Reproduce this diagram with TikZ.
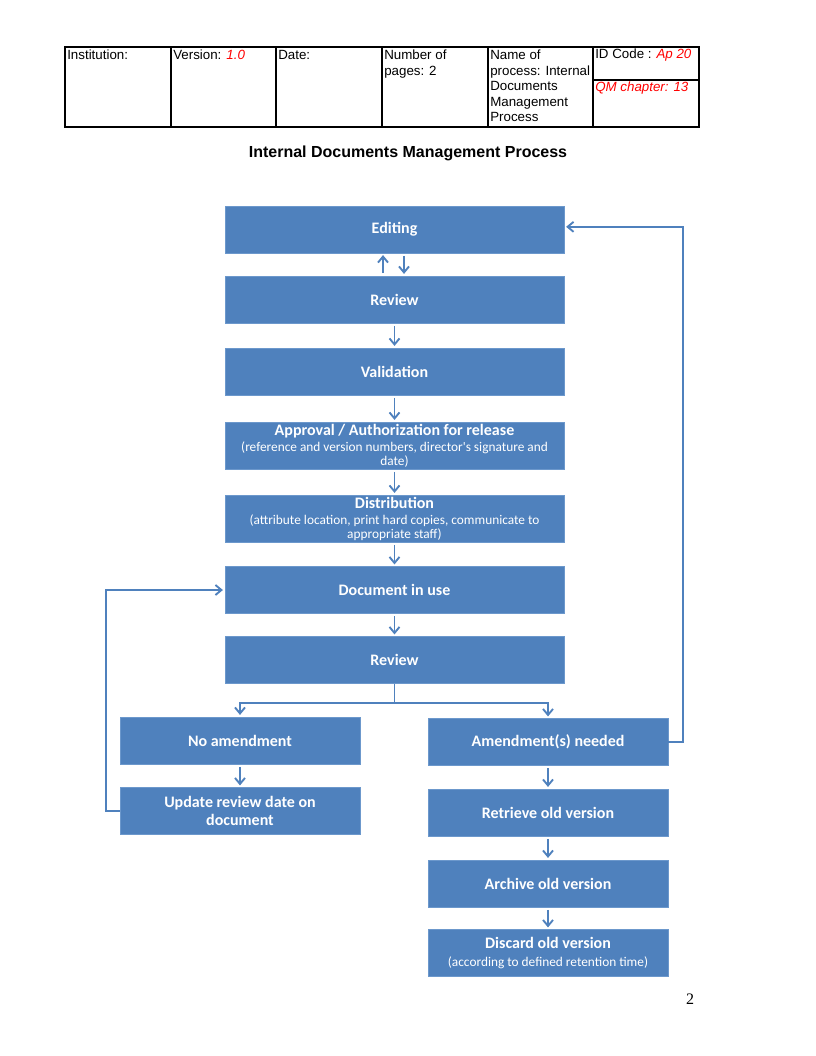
\documentclass[tikz,border=0pt]{standalone}
\usepackage{fontspec}
\setmainfont{Liberation Sans}
\newfontfamily\calibri{Carlito}
\newfontfamily\timesfont{Liberation Serif}
\usetikzlibrary{arrows.meta}
\definecolor{boxblue}{HTML}{4F81BD}
\definecolor{edgeblue}{HTML}{6C98CC}
\newcommand{\subtext}[1]{{\fontsize{10}{11}\selectfont\mdseries #1}}
\newcommand{\redit}[1]{\textcolor{red}{\itshape #1}}
\tikzset{
  stepbox/.style={fill=boxblue, draw=edgeblue, line width=0.4pt, text=white,
    font=\calibri\fontsize{12}{12}\selectfont\bfseries, align=center,
    minimum height=35pt, inner sep=1pt},
  mainbox/.style={stepbox, minimum width=254pt},
  sidebox/.style={stepbox, minimum width=180pt},
  flow/.style={draw=boxblue, line width=1.4pt, shorten >=1.5pt,
    -{Straight Barb[length=4.5pt,width=7.5pt]}},
  gapflow/.style={flow, shorten <=2pt},
  link/.style={draw=boxblue, line width=1.4pt},
  cell/.style={anchor=north west, inner sep=0pt, align=left,
    font=\fontsize{10}{11.6}\selectfont},
}
\begin{document}
\begin{tikzpicture}[x=0.75pt, y=-0.75pt]
  \path[fill=white, use as bounding box] (0,0) rectangle (816,1056);

  % header table
  \draw[line width=1.8pt] (65,47) rectangle (699,127);
  \foreach \x in {171,276,382,488,593} {
    \draw[line width=1.8pt] (\x,47) -- (\x,127);
  }
  \draw[line width=1.8pt] (593,80) -- (699,80);
  \node[cell] (inst) at (67,50) {Institution:};
  \node[cell] (vers) at (173,50) {Version: \redit{1.0}};
  \node[cell] (date) at (278,50) {Date:};
  \node[cell] (pages) at (384,50) {Number of\\pages: 2};
  \node[cell] (procname) at (490,50) {Name of\\process: Internal\\Documents\\Management\\Process};
  \node[cell] (idcode) at (595,49) {ID Code : \redit{Ap 20}};
  \node[cell] (qmchap) at (595,82) {\redit{QM chapter: 13}};

  % title
  \node[font=\bfseries\fontsize{12}{14}\selectfont] (title) at (408,153)
    {Internal Documents Management Process};

  % blocks
  \node[mainbox] (edit) at (394.5,229.5) {Editing};
  \node[mainbox] (rev) at (394.5,299.5) {Review};
  \node[mainbox] (valid) at (394.5,371.5) {Validation};
  \node[mainbox] (approv) at (394.5,445.5) {Approval / Authorization for release\\
    \subtext{(reference and version numbers, director's signature and}\\[-1.5pt] \subtext{date)}};
  \node[mainbox] (distrib) at (394.5,518.5) {Distribution\\
    \subtext{(attribute location, print hard copies, communicate to}\\[-1.5pt] \subtext{appropriate staff)}};
  \node[mainbox] (docuse) at (394.5,590) {Document in use};
  \node[mainbox] (revuse) at (394.5,660) {Review};
  \node[sidebox] (noamend) at (240,740.5) {No amendment};
  \node[sidebox] (update) at (240,811) {Update review date on\\[1pt]document};
  \node[sidebox] (amend) at (548,742) {Amendment(s) needed};
  \node[sidebox] (retrieve) at (548,812.5) {Retrieve old version};
  \node[sidebox] (archive) at (548,883.5) {Archive old version};
  \node[sidebox] (discard) at (548,953) {Discard old version\\[1pt]
    \subtext{(according to defined retention time)}};

  % arrows between blocks
  \coordinate (upx) at (383,0);
  \coordinate (downx) at (404,0);
  \draw[gapflow] (rev.north -| upx) -- (edit.south -| upx);
  \draw[gapflow] (edit.south -| downx) -- (rev.north -| downx);
  \draw[gapflow] (rev) -- (valid);
  \draw[gapflow] (valid) -- (approv);
  \draw[gapflow] (approv) -- (distrib);
  \draw[gapflow] (distrib) -- (docuse);
  \draw[gapflow] (docuse) -- (revuse);
  \draw[gapflow] (noamend) -- (update);
  \draw[gapflow] (amend) -- (retrieve);
  \draw[gapflow] (retrieve) -- (archive);
  \draw[gapflow] (archive) -- (discard);

  % fork after review
  \draw[link] (revuse.south) -- ++(0,19) coordinate (fork);
  \draw[flow] (fork) -| (noamend.north);
  \draw[flow] (fork) -| (amend.north);

  % loops back
  \draw[flow] (amend.east) -- ++(15,0) |- ([yshift=2pt]edit.east);
  \draw[flow] (update.west) -- ++(-14,0) |- (docuse.west);

  % page number
  \node[font=\timesfont\fontsize{12}{14}\selectfont] (pagenum) at (690,999) {2};
\end{tikzpicture}
\end{document}
